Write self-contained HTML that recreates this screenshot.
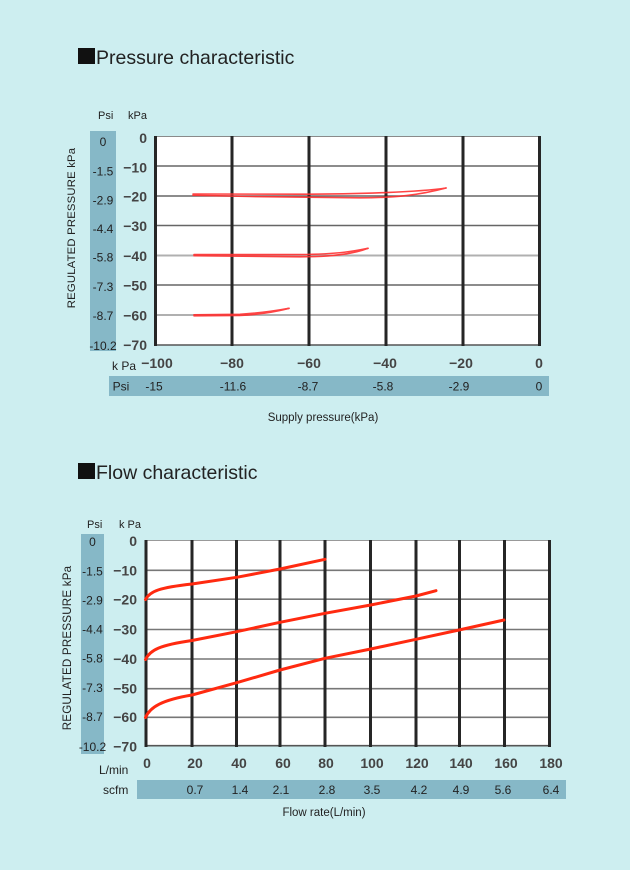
<!DOCTYPE html>
<html><head><meta charset="utf-8"><style>
html,body{margin:0;padding:0;background:#cdeef0;}
svg{display:block;}
text{font-family:"Liberation Sans",Arial,sans-serif;}
.t{fill:#444;font-size:14px;font-weight:bold;}
.p{fill:#222;font-size:12px;}
.s{fill:#222;font-size:11px;}
</style></head><body>
<svg width="630" height="870" viewBox="0 0 630 870" xmlns="http://www.w3.org/2000/svg">
<rect width="630" height="870" fill="#cdeef0"/>

<!-- ===== Chart 1 ===== -->
<rect x="78" y="48" width="17" height="16" fill="#111"/>
<text x="96" y="64" style="font-size:19.5px;fill:#222">Pressure characteristic</text>

<text x="98" y="119" class="s">Psi</text>
<text x="128" y="119" class="s">kPa</text>

<rect x="90" y="131" width="26" height="220" fill="#86b8c7"/>
<g class="p" text-anchor="middle">
<text x="103" y="146">0</text>
<text x="103" y="175.5">-1.5</text>
<text x="103" y="204.5">-2.9</text>
<text x="103" y="233">-4.4</text>
<text x="103" y="261.5">-5.8</text>
<text x="103" y="291">-7.3</text>
<text x="103" y="320">-8.7</text>
<text x="103" y="350">-10.2</text>
</g>

<text transform="translate(75,228) rotate(-90)" text-anchor="middle" style="font-size:11.3px;fill:#222;letter-spacing:0.2px">REGULATED PRESSURE kPa</text>

<rect x="155" y="136" width="385" height="209" fill="#fff"/>
<g stroke-width="1.5">
<line x1="155" y1="136.5" x2="540" y2="136.5" stroke="#8a8a8a" stroke-width="1"/>
<line x1="155" y1="166" x2="540" y2="166" stroke="#666"/>
<line x1="155" y1="196" x2="540" y2="196" stroke="#666"/>
<line x1="155" y1="225.5" x2="540" y2="225.5" stroke="#666"/>
<line x1="155" y1="255.5" x2="540" y2="255.5" stroke="#b0b0b0" stroke-width="2"/>
<line x1="155" y1="285" x2="540" y2="285" stroke="#666"/>
<line x1="155" y1="315" x2="540" y2="315" stroke="#b0b0b0" stroke-width="2"/>
<line x1="155" y1="345" x2="540" y2="345" stroke="#555"/>
</g>
<g stroke="#262626" stroke-width="3">
<line x1="155.5" y1="136" x2="155.5" y2="346"/>
<line x1="232" y1="136" x2="232" y2="346"/>
<line x1="309" y1="136" x2="309" y2="346"/>
<line x1="386" y1="136" x2="386" y2="346"/>
<line x1="463" y1="136" x2="463" y2="346"/>
<line x1="539.5" y1="136" x2="539.5" y2="346"/>
</g>

<g fill="none" stroke="#ff3030" stroke-width="1.6" stroke-linecap="round" opacity="0.9">
<path d="M193,194 L300,194.2 C360,194 420,192 446,188"/>
<path d="M446,188 C420,195 395,197.8 360,197.8 L250,196.5 L193,195.2"/>
<path d="M194,254.5 L300,254.6 C340,254 355,251 368,248.3"/>
<path d="M368,248.3 C355,253.5 335,256.8 300,256.8 L194,255.7"/>
<path d="M194,314.8 L240,314.3 C260,313 280,310 289,308.3"/>
<path d="M289,308.3 C275,312 255,315 240,315.5 L194,315.8"/>
</g>

<g class="t" text-anchor="end">
<text x="147" y="143">0</text>
<text x="147" y="172.5">−10</text>
<text x="147" y="201.5">−20</text>
<text x="147" y="231">−30</text>
<text x="147" y="261">−40</text>
<text x="147" y="290.5">−50</text>
<text x="147" y="320.5">−60</text>
<text x="147" y="350">−70</text>
</g>

<text x="112" y="370" style="font-size:12px;fill:#222">k Pa</text>
<g class="t" text-anchor="middle">
<text x="157" y="368">−100</text>
<text x="232" y="368">−80</text>
<text x="309" y="368">−60</text>
<text x="385" y="368">−40</text>
<text x="461" y="368">−20</text>
<text x="539" y="368">0</text>
</g>

<rect x="109" y="376" width="440" height="20" fill="#86b8c7"/>
<g class="p" text-anchor="middle">
<text x="121" y="390.5">Psi</text>
<text x="154" y="390.5">-15</text>
<text x="233" y="390.5">-11.6</text>
<text x="308" y="390.5">-8.7</text>
<text x="383" y="390.5">-5.8</text>
<text x="459" y="390.5">-2.9</text>
<text x="539" y="390.5">0</text>
</g>
<text x="323" y="421" text-anchor="middle" style="font-size:11.5px;fill:#222">Supply pressure(kPa)</text>

<!-- ===== Chart 2 ===== -->
<rect x="78" y="463" width="17" height="16" fill="#111"/>
<text x="96" y="479" style="font-size:19.5px;fill:#222">Flow characteristic</text>

<text x="87" y="528" class="s">Psi</text>
<text x="119" y="528" class="s">k Pa</text>

<rect x="81" y="534" width="23" height="220" fill="#86b8c7"/>
<g class="p" text-anchor="middle">
<text x="92.5" y="546">0</text>
<text x="92.5" y="575.5">-1.5</text>
<text x="92.5" y="604.5">-2.9</text>
<text x="92.5" y="633.5">-4.4</text>
<text x="92.5" y="662.5">-5.8</text>
<text x="92.5" y="692">-7.3</text>
<text x="92.5" y="721">-8.7</text>
<text x="92.5" y="751">-10.2</text>
</g>

<text transform="translate(71,648) rotate(-90)" text-anchor="middle" style="font-size:11.6px;fill:#222;letter-spacing:0.2px">REGULATED PRESSURE kPa</text>

<rect x="145" y="540" width="405" height="206" fill="#fff"/>
<g stroke="#777" stroke-width="1.6">
<line x1="145" y1="540.5" x2="550" y2="540.5" stroke="#999" stroke-width="1"/>
<line x1="145" y1="570.3" x2="550" y2="570.3"/>
<line x1="145" y1="599.2" x2="550" y2="599.2"/>
<line x1="145" y1="629.5" x2="550" y2="629.5"/>
<line x1="145" y1="659" x2="550" y2="659"/>
<line x1="145" y1="688.7" x2="550" y2="688.7"/>
<line x1="145" y1="717.3" x2="550" y2="717.3"/>
<line x1="145" y1="745.7" x2="550" y2="745.7" stroke="#555"/>
</g>
<g stroke="#262626" stroke-width="3">
<line x1="146" y1="540" x2="146" y2="747"/>
<line x1="192" y1="540" x2="192" y2="747"/>
<line x1="236.5" y1="540" x2="236.5" y2="747"/>
<line x1="280" y1="540" x2="280" y2="747"/>
<line x1="325" y1="540" x2="325" y2="747"/>
<line x1="370.5" y1="540" x2="370.5" y2="747"/>
<line x1="416" y1="540" x2="416" y2="747"/>
<line x1="459.5" y1="540" x2="459.5" y2="747"/>
<line x1="504.5" y1="540" x2="504.5" y2="747"/>
<line x1="549.5" y1="540" x2="549.5" y2="747"/>
</g>

<g fill="none" stroke="#ff2a10" stroke-width="3" stroke-linecap="round" stroke-linejoin="round">
<path d="M145.5,599.5 C150,591 160,587.5 192,584 L236.7,577.3 L280,569 L325,559.3"/>
<path d="M145.5,659.5 C150,650 160,645 192,640.5 L236.7,631.7 L280,622.3 L325,613.3 L370.7,605 L416,596 L436,590.7"/>
<path d="M145.5,717.5 C150,707 162,700 192,695 L236.7,682.7 L280,670 L325,658.3 L370.7,649 L416,639.3 L459,630 L504,620"/>
</g>

<g class="t" text-anchor="end">
<text x="137" y="546">0</text>
<text x="137" y="575.5">−10</text>
<text x="137" y="604.5">−20</text>
<text x="137" y="634.5">−30</text>
<text x="137" y="664">−40</text>
<text x="137" y="693.5">−50</text>
<text x="137" y="722">−60</text>
<text x="137" y="751.5">−70</text>
</g>

<g class="t" text-anchor="middle">
<text x="147" y="768">0</text>
<text x="195" y="768">20</text>
<text x="239" y="768">40</text>
<text x="283" y="768">60</text>
<text x="326" y="768">80</text>
<text x="372" y="768">100</text>
<text x="417" y="768">120</text>
<text x="461" y="768">140</text>
<text x="506" y="768">160</text>
<text x="551" y="768">180</text>
</g>
<text x="99" y="774" style="font-size:12px;fill:#222">L/min</text>

<rect x="137" y="780" width="429" height="19" fill="#86b8c7"/>
<text x="103" y="794" style="font-size:12px;fill:#222">scfm</text>
<g class="p" text-anchor="middle">
<text x="195" y="794">0.7</text>
<text x="240" y="794">1.4</text>
<text x="281" y="794">2.1</text>
<text x="327" y="794">2.8</text>
<text x="372" y="794">3.5</text>
<text x="419" y="794">4.2</text>
<text x="461" y="794">4.9</text>
<text x="503" y="794">5.6</text>
<text x="551" y="794">6.4</text>
</g>
<text x="324" y="816" text-anchor="middle" style="font-size:11.5px;fill:#222">Flow rate(L/min)</text>
</svg>
</body></html>
